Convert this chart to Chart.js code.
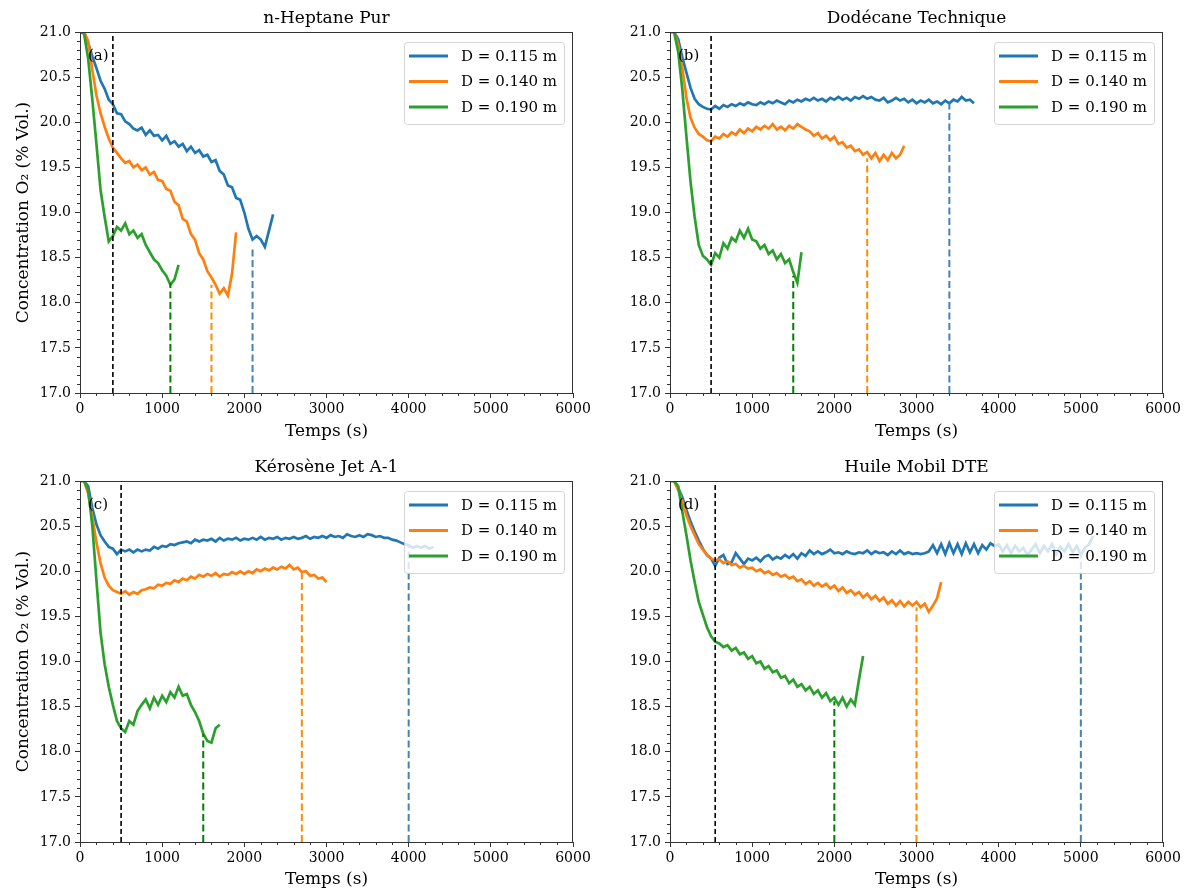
<!DOCTYPE html>
<html>
<head>
<meta charset="utf-8">
<script src="https://cdn.jsdelivr.net/npm/chart.js@4/dist/chart.umd.min.js"></script>
<style>
  html, body { margin: 0; padding: 0; background: #fff; }
  #wrap { position: relative; width: 1192px; height: 891px; }
  canvas { position: absolute; }
</style>
</head>
<body>
<div id="wrap">
  <canvas id="cA" width="596" height="445" style="left:0;top:0"></canvas>
  <canvas id="cB" width="596" height="445" style="left:596px;top:0"></canvas>
  <canvas id="cC" width="596" height="446" style="left:0;top:445px"></canvas>
  <canvas id="cD" width="596" height="446" style="left:596px;top:445px"></canvas>
</div>
<script>
// Temps : un point toutes les 50 s, à partir de 0
const STEP = 50;
const diameters = ['D = 0.115 m', 'D = 0.140 m', 'D = 0.190 m'];
const colors = ['#1f77b4', '#ff7f0e', '#2ca02c'];
const markColors = ['#4682b4', '#ff8c00', '#008000'];

// (a) n-Heptane Pur
const heptane115 = [21.00, 21.00, 20.88, 20.73, 20.60, 20.46, 20.37, 20.25, 20.20, 20.10, 20.09, 20.01, 19.98, 19.93, 19.91, 19.94, 19.86, 19.91, 19.85, 19.86, 19.80, 19.85, 19.76, 19.79, 19.73, 19.76, 19.68, 19.73, 19.66, 19.69, 19.62, 19.64, 19.56, 19.58, 19.46, 19.42, 19.30, 19.28, 19.16, 19.14, 19.00, 18.82, 18.70, 18.74, 18.70, 18.62, 18.80, 18.98];
const heptane140 = [21.00, 21.00, 20.90, 20.58, 20.30, 20.10, 19.95, 19.82, 19.72, 19.66, 19.60, 19.55, 19.57, 19.50, 19.53, 19.47, 19.50, 19.42, 19.45, 19.36, 19.35, 19.26, 19.24, 19.12, 19.08, 18.93, 18.90, 18.76, 18.70, 18.55, 18.48, 18.35, 18.28, 18.20, 18.10, 18.16, 18.08, 18.32, 18.78];
const heptane190 = [21.00, 20.98, 20.70, 20.25, 19.76, 19.25, 18.95, 18.68, 18.74, 18.84, 18.80, 18.88, 18.76, 18.80, 18.72, 18.76, 18.64, 18.56, 18.48, 18.44, 18.36, 18.30, 18.20, 18.26, 18.42];
const heptaneStart = 400;
const heptaneEnds = [2100, 1600, 1100];
const heptaneEndTops = [18.62, 18.20, 18.22];

// (b) Dodécane Technique
const dodecane115 = [21.00, 21.00, 20.92, 20.72, 20.55, 20.38, 20.26, 20.20, 20.17, 20.15, 20.14, 20.18, 20.15, 20.19, 20.17, 20.20, 20.18, 20.21, 20.19, 20.22, 20.20, 20.19, 20.22, 20.20, 20.23, 20.21, 20.24, 20.22, 20.20, 20.24, 20.22, 20.25, 20.23, 20.26, 20.24, 20.27, 20.24, 20.26, 20.23, 20.27, 20.25, 20.28, 20.25, 20.27, 20.24, 20.28, 20.26, 20.29, 20.26, 20.28, 20.25, 20.24, 20.27, 20.22, 20.24, 20.27, 20.24, 20.26, 20.22, 20.25, 20.21, 20.24, 20.22, 20.25, 20.21, 20.23, 20.20, 20.24, 20.21, 20.25, 20.23, 20.28, 20.24, 20.25, 20.21];
const dodecane140 = [21.00, 21.00, 20.86, 20.60, 20.27, 20.05, 19.94, 19.87, 19.84, 19.80, 19.79, 19.84, 19.82, 19.87, 19.84, 19.89, 19.86, 19.92, 19.88, 19.93, 19.90, 19.95, 19.92, 19.96, 19.93, 19.98, 19.92, 19.95, 19.91, 19.96, 19.93, 19.98, 19.95, 19.92, 19.90, 19.85, 19.88, 19.82, 19.85, 19.80, 19.84, 19.76, 19.78, 19.72, 19.74, 19.68, 19.70, 19.64, 19.67, 19.60, 19.66, 19.57, 19.64, 19.58, 19.66, 19.60, 19.64, 19.74];
const dodecane190 = [21.00, 21.00, 20.78, 20.36, 19.84, 19.34, 18.95, 18.64, 18.52, 18.48, 18.42, 18.55, 18.50, 18.66, 18.60, 18.72, 18.68, 18.80, 18.72, 18.82, 18.70, 18.68, 18.60, 18.64, 18.54, 18.58, 18.48, 18.54, 18.44, 18.48, 18.34, 18.22, 18.56];
const dodecaneStart = 500;
const dodecaneEnds = [3400, 2400, 1500];
const dodecaneEndTops = [20.21, 19.60, 18.30];

// (c) Kérosène Jet A-1
const kerosene115 = [21.00, 21.00, 20.94, 20.70, 20.52, 20.40, 20.33, 20.27, 20.25, 20.19, 20.24, 20.22, 20.24, 20.21, 20.24, 20.22, 20.24, 20.23, 20.27, 20.25, 20.28, 20.27, 20.30, 20.29, 20.31, 20.32, 20.33, 20.31, 20.35, 20.33, 20.35, 20.34, 20.36, 20.33, 20.37, 20.34, 20.36, 20.35, 20.37, 20.34, 20.36, 20.35, 20.37, 20.35, 20.38, 20.35, 20.37, 20.36, 20.38, 20.35, 20.37, 20.36, 20.38, 20.36, 20.37, 20.39, 20.36, 20.38, 20.37, 20.39, 20.37, 20.40, 20.38, 20.39, 20.37, 20.41, 20.39, 20.38, 20.40, 20.38, 20.41, 20.40, 20.38, 20.39, 20.37, 20.37, 20.35, 20.34, 20.32, 20.30, 20.29, 20.26, 20.28, 20.26, 20.28, 20.25, 20.27];
const kerosene140 = [21.00, 21.00, 20.86, 20.60, 20.32, 20.09, 19.93, 19.84, 19.79, 19.77, 19.75, 19.78, 19.74, 19.77, 19.75, 19.79, 19.80, 19.82, 19.81, 19.85, 19.84, 19.87, 19.86, 19.90, 19.88, 19.92, 19.90, 19.94, 19.92, 19.96, 19.94, 19.97, 19.95, 19.98, 19.94, 19.97, 19.96, 19.99, 19.97, 20.00, 19.97, 20.00, 19.98, 20.02, 20.00, 20.03, 20.01, 20.04, 20.02, 20.05, 20.03, 20.07, 20.02, 20.04, 19.99, 20.00, 19.95, 19.96, 19.92, 19.93, 19.88];
const kerosene190 = [21.00, 21.00, 20.90, 20.50, 19.90, 19.32, 18.97, 18.72, 18.52, 18.34, 18.26, 18.22, 18.34, 18.30, 18.45, 18.52, 18.58, 18.48, 18.60, 18.52, 18.62, 18.55, 18.66, 18.60, 18.72, 18.62, 18.64, 18.52, 18.44, 18.34, 18.20, 18.12, 18.10, 18.26, 18.30];
const keroseneStart = 500;
const keroseneEnds = [4000, 2700, 1500];
const keroseneEndTops = [20.29, 19.99, 18.20];

// (d) Huile Mobil DTE
const huile115 = [21.00, 21.00, 20.92, 20.82, 20.68, 20.55, 20.44, 20.34, 20.25, 20.18, 20.14, 20.06, 20.15, 20.18, 20.08, 20.10, 20.20, 20.14, 20.08, 20.14, 20.12, 20.15, 20.11, 20.16, 20.18, 20.13, 20.16, 20.14, 20.18, 20.15, 20.19, 20.14, 20.20, 20.17, 20.23, 20.19, 20.22, 20.19, 20.21, 20.24, 20.20, 20.21, 20.19, 20.22, 20.20, 20.19, 20.21, 20.20, 20.23, 20.19, 20.22, 20.20, 20.21, 20.18, 20.22, 20.19, 20.23, 20.19, 20.21, 20.19, 20.20, 20.19, 20.20, 20.22, 20.29, 20.20, 20.30, 20.19, 20.31, 20.20, 20.30, 20.19, 20.31, 20.21, 20.30, 20.20, 20.29, 20.24, 20.31, 20.28, 20.30, 20.22, 20.29, 20.20, 20.28, 20.22, 20.26, 20.18, 20.24, 20.30, 20.20, 20.28, 20.22, 20.30, 20.19, 20.27, 20.22, 20.30, 20.21, 20.28, 20.18, 20.26, 20.30, 20.39];
const huile140 = [21.00, 21.00, 20.90, 20.78, 20.62, 20.50, 20.40, 20.30, 20.24, 20.18, 20.14, 20.12, 20.13, 20.09, 20.11, 20.07, 20.08, 20.04, 20.06, 20.03, 20.04, 20.00, 20.02, 19.98, 20.00, 19.96, 19.98, 19.94, 19.96, 19.92, 19.94, 19.89, 19.91, 19.86, 19.89, 19.84, 19.87, 19.83, 19.86, 19.81, 19.84, 19.78, 19.82, 19.76, 19.79, 19.74, 19.77, 19.71, 19.75, 19.69, 19.73, 19.67, 19.71, 19.64, 19.68, 19.62, 19.67, 19.61, 19.66, 19.62, 19.66, 19.60, 19.64, 19.55, 19.62, 19.70, 19.88];
const huile190 = [21.00, 21.00, 20.94, 20.66, 20.40, 20.12, 19.88, 19.66, 19.52, 19.38, 19.28, 19.22, 19.20, 19.16, 19.18, 19.12, 19.15, 19.08, 19.10, 19.03, 19.06, 18.98, 19.00, 18.92, 18.95, 18.88, 18.90, 18.82, 18.84, 18.76, 18.80, 18.72, 18.75, 18.68, 18.72, 18.64, 18.68, 18.60, 18.65, 18.56, 18.60, 18.52, 18.60, 18.50, 18.58, 18.52, 18.80, 19.06];
const huileStart = 550;
const huileEnds = [5000, 3000, 2000];
const huileEndTops = [20.18, 19.60, 18.56];

const FONT = 'DejaVu Serif';

const panels = [
    { id: 'cA', title: 'n-Heptane Pur', tag: '(a)', series: [heptane115, heptane140, heptane190],
      start: heptaneStart, ends: heptaneEnds, tops: heptaneEndTops,
      yTitle: true, yw: 80, padRight: 23, padTop: 32, xh: 52, xpb: 3 },
    { id: 'cB', title: 'Dodécane Technique', tag: '(b)', series: [dodecane115, dodecane140, dodecane190],
      start: dodecaneStart, ends: dodecaneEnds, tops: dodecaneEndTops,
      yTitle: false, yw: 74, padRight: 29, padTop: 32, xh: 52, xpb: 3 },
    { id: 'cC', title: 'Kérosène Jet A-1', tag: '(c)', series: [kerosene115, kerosene140, kerosene190],
      start: keroseneStart, ends: keroseneEnds, tops: keroseneEndTops,
      yTitle: true, yw: 80, padRight: 23, padTop: 36, xh: 49, xpb: 1 },
    { id: 'cD', title: 'Huile Mobil DTE', tag: '(d)', series: [huile115, huile140, huile190],
      start: huileStart, ends: huileEnds, tops: huileEndTops,
      yTitle: false, yw: 74, padRight: 29, padTop: 36, xh: 49, xpb: 1 }
];

// Cadre, petites graduations, titre, légende et étiquette du panneau
const decorPlugin = {
    id: 'decor',
    afterDatasetsDraw(chart, args, opts) {
        const ctx = chart.ctx;
        const ca = chart.chartArea;
        const xs = chart.scales.x, ys = chart.scales.y;

        ctx.save();
        // cadre
        ctx.strokeStyle = '#333';
        ctx.lineWidth = 1;
        ctx.strokeRect(ca.left + 0.5, ca.top + 0.5, ca.right - ca.left - 1, ca.bottom - ca.top);

        // graduations mineures
        ctx.beginPath();
        for (let v = 200; v < 6000; v += 200) {
            if (v % 1000 === 0) continue;
            const px = Math.round(xs.getPixelForValue(v)) + 0.5;
            ctx.moveTo(px, ca.bottom);
            ctx.lineTo(px, ca.bottom + 3);
        }
        for (let k = 171; k < 210; k++) {
            if (k % 5 === 0) continue;
            const py = Math.round(ys.getPixelForValue(k / 10)) + 0.5;
            ctx.moveTo(ca.left, py);
            ctx.lineTo(ca.left - 3, py);
        }
        ctx.stroke();

        // titre
        ctx.fillStyle = '#000';
        ctx.font = `17px "${FONT}"`;
        ctx.textAlign = 'center';
        ctx.textBaseline = 'middle';
        ctx.fillText(opts.title, (ca.left + ca.right) / 2, ca.top - 13);

        // étiquette (a), (b)...
        ctx.font = `15px "${FONT}"`;
        ctx.textAlign = 'left';
        ctx.fillText(opts.tag, ca.left + 8, ca.top + 24);

        // légende
        const w = 160, h = 82;
        const lx = ca.right - 9 - w, ly = ca.top + 10;
        ctx.beginPath();
        ctx.roundRect(lx + 0.5, ly + 0.5, w, h, 3);
        ctx.fillStyle = 'rgba(255,255,255,0.8)';
        ctx.fill();
        ctx.strokeStyle = 'rgba(204,204,204,0.8)';
        ctx.stroke();
        diameters.forEach((label, i) => {
            const y = ly + 14 + i * 25.5;
            ctx.strokeStyle = colors[i];
            ctx.lineWidth = 2.8;
            ctx.beginPath();
            ctx.moveTo(lx + 5, y);
            ctx.lineTo(lx + 44, y);
            ctx.stroke();
            ctx.fillStyle = '#000';
            ctx.fillText(label, lx + 57, y + 1);
        });
        ctx.restore();
    }
};

function makeChart(p) {
    const datasets = [];
    p.series.forEach((values, i) => {
        datasets.push({
            label: diameters[i],
            data: values.map((y, k) => ({ x: k * STEP, y: y })),
            borderColor: colors[i],
            borderWidth: 2.7,
            pointRadius: 0,
            tension: 0,
            order: 4 - i
        });
    });
    // fin de combustion (tirets colorés)
    p.ends.forEach((t, i) => {
        datasets.push({
            label: 'fin ' + diameters[i],
            data: [{ x: t, y: 17 }, { x: t, y: p.tops[i] }],
            borderColor: markColors[i],
            borderWidth: 2,
            borderDash: [7, 3.5],
            pointRadius: 0,
            order: 1
        });
    });
    // début du régime établi (tirets noirs)
    datasets.push({
        label: 'début',
        data: [{ x: p.start, y: 17 }, { x: p.start, y: 21 }],
        borderColor: '#000',
        borderWidth: 1.6,
        borderDash: [5, 3],
        pointRadius: 0,
        order: 0
    });

    return new Chart(document.getElementById(p.id), {
        type: 'line',
        data: { datasets },
        options: {
            responsive: false,
            animation: false,
            layout: { padding: { top: p.padTop, right: p.padRight, left: 0, bottom: 0 } },
            plugins: {
                legend: { display: false },
                tooltip: { enabled: false },
                decor: { title: p.title, tag: p.tag }
            },
            scales: {
                x: {
                    type: 'linear', min: 0, max: 6000,
                    afterFit: s => { s.height = p.xh; },
                    border: { display: false },
                    grid: { display: true, drawOnChartArea: false, tickLength: 5, color: '#333' },
                    ticks: { stepSize: 1000, maxRotation: 0, padding: 3, color: '#000',
                             font: { family: FONT, size: 14 }, callback: v => String(v) },
                    title: { display: true, text: 'Temps (s)', color: '#000',
                             font: { family: FONT, size: 17 }, padding: { top: 0, bottom: p.xpb } }
                },
                y: {
                    type: 'linear', min: 17, max: 21,
                    afterFit: s => { s.width = p.yw; },
                    border: { display: false },
                    grid: { display: true, drawOnChartArea: false, tickLength: 5, color: '#333' },
                    ticks: { stepSize: 0.5, padding: 4, color: '#000',
                             font: { family: FONT, size: 14 }, callback: v => v.toFixed(1) },
                    title: { display: p.yTitle, text: 'Concentration O₂ (% Vol.)', color: '#000',
                             font: { family: FONT, size: 17 }, padding: { top: 13, bottom: 0 } }
                }
            }
        },
        plugins: [decorPlugin]
    });
}

panels.forEach(makeChart);
</script>
</body>
</html>
